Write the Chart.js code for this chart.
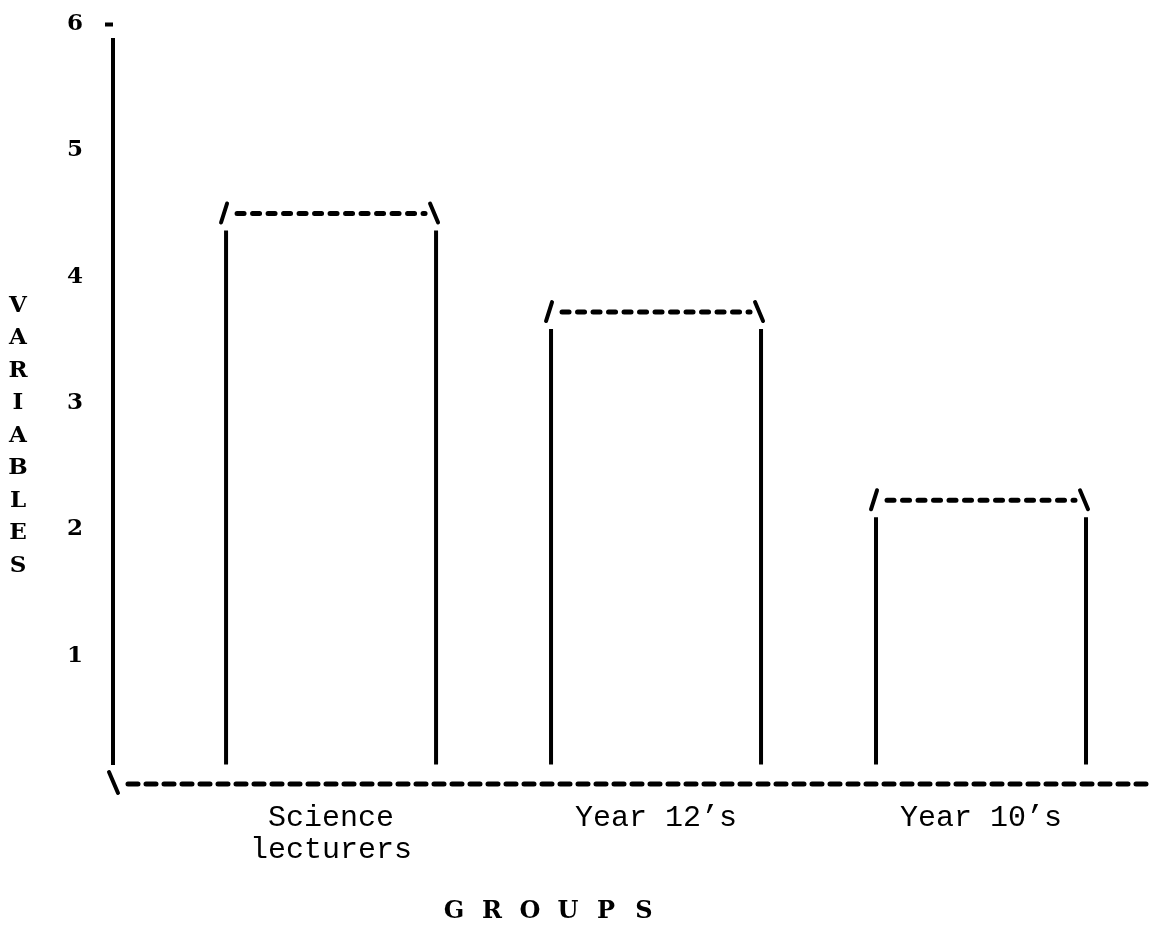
<!DOCTYPE html>
<html><head><meta charset="utf-8">
<script src="https://cdn.jsdelivr.net/npm/chart.js@4"></script>
<style>html,body{margin:0;padding:0;background:#fff}#wrap{width:1159px;height:926px}</style>
</head><body><div id="wrap"><canvas id="c" width="1159" height="926"></canvas></div>
<script>
// ---- data ----
const categories = [["Science", "lecturers"], "Year 12\u2019s", "Year 10\u2019s"];
const values = [4.5, 3.72, 2.23];
const yTickValues = [1, 2, 3, 4, 5, 6];
const xTitle = "GROUPS";
const yTitle = "VARIABLES";

const BOLD = "bold 23px 'DejaVu Serif'";

const typewriterBars = {
  id: 'typewriterBars',
  afterDatasetsDraw(chart) {
    const ctx = chart.ctx;
    const meta = chart.getDatasetMeta(0);
    const xs = chart.scales.x, ys = chart.scales.y;
    const by = ys.getPixelForValue(0);
    ctx.save();
    ctx.strokeStyle = '#000';
    // y axis line (typed, stops short of the baseline)
    ctx.setLineDash([]);
    ctx.lineCap = 'butt';
    ctx.lineWidth = 4;
    ctx.beginPath();
    ctx.moveTo(xs.left, ys.top + 14); ctx.lineTo(xs.left, by - 17);
    ctx.stroke();
    // x axis dashed baseline
    ctx.lineWidth = 5;
    ctx.lineCap = 'round';
    ctx.setLineDash([10, 8]);
    ctx.beginPath();
    ctx.moveTo(xs.left + 15, by + 2); ctx.lineTo(xs.right, by + 2);
    ctx.stroke();
    // baseline corner "\"
    ctx.setLineDash([]);
    ctx.lineWidth = 4;
    ctx.beginPath();
    ctx.moveTo(xs.left - 4, by - 10); ctx.lineTo(xs.left + 5, by + 11);
    ctx.stroke();
    meta.data.forEach(bar => {
      const p = bar.getProps(['x', 'y', 'base', 'width'], true);
      const l = p.x - p.width / 2, r = p.x + p.width / 2;
      // verticals
      ctx.setLineDash([]);
      ctx.lineCap = 'butt';
      ctx.lineWidth = 4;
      ctx.beginPath();
      ctx.moveTo(l, p.y + 17); ctx.lineTo(l, p.base - 17);
      ctx.moveTo(r, p.y + 17); ctx.lineTo(r, p.base - 17);
      ctx.stroke();
      // slashes
      ctx.lineCap = 'round';
      ctx.lineWidth = 4;
      ctx.beginPath();
      ctx.moveTo(l - 5, p.y + 9); ctx.lineTo(l + 1, p.y - 10);
      ctx.moveTo(r - 6, p.y - 10); ctx.lineTo(r + 2, p.y + 9);
      ctx.stroke();
      // dashed top
      ctx.lineWidth = 5;
      ctx.setLineDash([7, 8.5]);
      ctx.beginPath();
      ctx.moveTo(l + 11, p.y); ctx.lineTo(r - 11, p.y);
      ctx.stroke();
    });
    // titles
    ctx.setLineDash([]);
    ctx.fillStyle = '#000';
    ctx.font = BOLD;
    ctx.textAlign = 'center';
    ctx.textBaseline = 'middle';
    [...yTitle].forEach((ch, i) => ctx.fillText(ch, 18, 306 + i * 32.5));
    ctx.font = "bold 24px 'DejaVu Serif'";
    [...xTitle].forEach((ch, i) => ctx.fillText(ch, 454 + i * 38, 912));
    ctx.restore();
  }
};

new Chart(document.getElementById('c'), {
  type: 'bar',
  data: {
    datasets: [{
      data: values.map((v, i) => ({ x: i + 1, y: v })),
      backgroundColor: 'rgba(0,0,0,0)',
      borderWidth: 0,
      barThickness: 210
    }]
  },
  options: {
    responsive: false,
    animation: false,
    events: [],
    layout: { padding: { top: 24, right: 9, left: 0, bottom: 0 } },
    plugins: { legend: { display: false }, tooltip: { enabled: false } },
    scales: {
      x: {
        type: 'linear',
        offset: false,
        min: 0.329, max: 3.52,
        afterBuildTicks: s => { s.ticks = categories.map((c, i) => ({ value: i + 1 })); },
        afterFit: s => { s.height = 144; s.paddingLeft = 0; s.paddingRight = 0; },
        ticks: {
          callback: v => categories[v - 1] ?? '',
          font: { family: 'Liberation Mono', size: 30, lineHeight: 1.07 },
          color: '#000', padding: 12, maxRotation: 0, autoSkip: false
        },
        grid: { display: false },
        border: { display: false }
      },
      y: {
        min: 0, max: 6,
        afterBuildTicks: s => { s.ticks = [0, ...yTickValues].map(v => ({ value: v })); },
        afterFit: s => { s.width = 113; s.paddingTop = 0; s.paddingBottom = 0; },
        ticks: {
          callback: v => v === 0 ? '' : String(v),
          font: { family: 'DejaVu Serif', size: 23, weight: 'bold' },
          color: '#000', padding: 22
        },
        grid: {
          display: true, drawOnChartArea: false, drawTicks: true, tickLength: 8, tickWidth: 4,
          tickColor: c => (c.tick && c.tick.value === 6) ? '#000' : 'rgba(0,0,0,0)'
        },
        border: { display: false }
      }
    }
  },
  plugins: [typewriterBars]
});
</script>
</body></html>
